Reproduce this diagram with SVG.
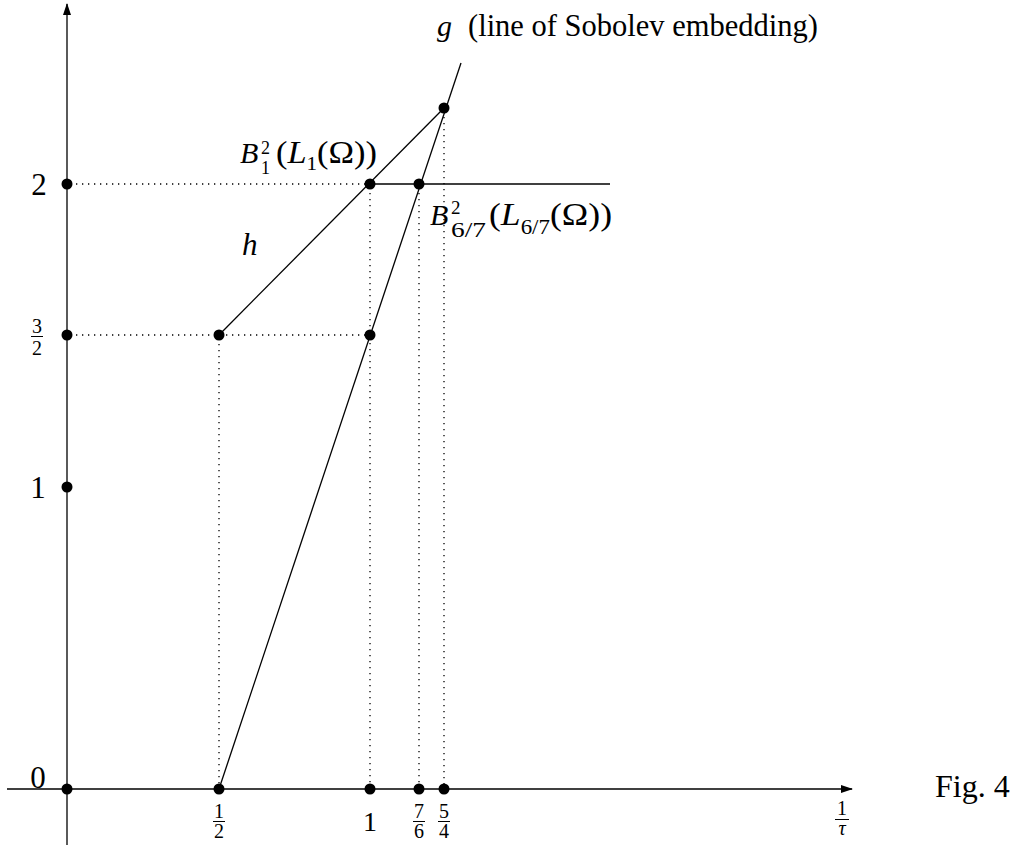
<svg xmlns="http://www.w3.org/2000/svg" width="1017" height="849" viewBox="0 0 1017 849">
<style>
text{font-family:"Liberation Serif","Times New Roman",serif;fill:#000}
.it{font-style:italic}
.ax{stroke:#000;stroke-width:1.3;fill:none}
.ln{stroke:#000;stroke-width:1.3;fill:none}
.dt{stroke:#000;stroke-width:1.3;stroke-dasharray:1.3 4.7;fill:none}
.bar{stroke:#000;stroke-width:1}
</style>
<defs>
<marker id="arr" viewBox="0 0 12 8" refX="11" refY="4" markerWidth="12" markerHeight="8" markerUnits="userSpaceOnUse" orient="auto">
<path d="M0,0 L12,4 L0,8 Z" fill="#000"/>
</marker>
</defs>
<rect width="1017" height="849" fill="#fff"/>
<g id="axes">
<line class="ax" x1="67" y1="845" x2="67" y2="4" marker-end="url(#arr)"/>
<line class="ax" x1="7" y1="789" x2="852" y2="789" marker-end="url(#arr)"/>
</g>
<g id="connectors">
<line class="dt" x1="70" y1="184" x2="370" y2="184"/>
<line class="dt" x1="70" y1="335" x2="370" y2="335"/>
<line class="dt" x1="219" y1="338" x2="219" y2="789"/>
<line class="dt" x1="370" y1="187" x2="370" y2="789"/>
<line class="dt" x1="419" y1="187" x2="419" y2="789"/>
<line class="dt" x1="444" y1="111" x2="444" y2="789"/>
<line id="g-line" class="ln" x1="219" y1="789" x2="461" y2="63"/>
<line id="h-line" class="ln" x1="219" y1="335" x2="444" y2="108"/>
<line class="ln" x1="370" y1="184" x2="610" y2="184"/>
</g>
<g id="points" fill="#000">
<circle cx="67" cy="789" r="5.5"/>
<circle cx="67" cy="487" r="5.5"/>
<circle cx="67" cy="335" r="5.5"/>
<circle cx="67" cy="184" r="5.5"/>
<circle cx="219" cy="789" r="5.5"/>
<circle cx="370" cy="789" r="5.5"/>
<circle cx="419" cy="789" r="5.5"/>
<circle cx="444" cy="789" r="5.5"/>
<circle cx="219" cy="335" r="5.5"/>
<circle cx="370" cy="335" r="5.5"/>
<circle cx="370" cy="184" r="5.5"/>
<circle cx="419" cy="184" r="5.5"/>
<circle cx="444" cy="108" r="5.5"/>
</g>
<g id="y-labels" text-anchor="middle">
<text x="38" y="788" font-size="31">0</text>
<text x="38" y="498" font-size="31">1</text>
<text x="39" y="195" font-size="31">2</text>
<text x="37" y="333" font-size="20">3</text>
<line class="bar" x1="31" y1="336.5" x2="43" y2="336.5"/>
<text x="37" y="355" font-size="20">2</text>
</g>
<g id="x-labels" text-anchor="middle">
<text x="219" y="818" font-size="20">1</text>
<line class="bar" x1="213" y1="821.5" x2="225" y2="821.5"/>
<text x="219" y="838" font-size="20">2</text>
<text x="370" y="831" font-size="28">1</text>
<text x="419" y="818" font-size="20">7</text>
<line class="bar" x1="413" y1="821.5" x2="425" y2="821.5"/>
<text x="419" y="838" font-size="20">6</text>
<text x="444" y="818" font-size="20">5</text>
<line class="bar" x1="438" y1="821.5" x2="450" y2="821.5"/>
<text x="444" y="838" font-size="20">4</text>
<text x="842" y="815" font-size="20">1</text>
<line class="bar" x1="835" y1="819.5" x2="849" y2="819.5"/>
<text x="842" y="835" font-size="20" class="it">τ</text>
</g>
<g id="label-g">
<text x="437" y="36" font-size="30" class="it">g</text>
<text x="468" y="36" font-size="30.5">(line of Sobolev embedding)</text>
</g>
<g id="label-h">
<text x="242" y="255" font-size="31" class="it">h</text>
</g>
<g id="label-B1">
<text x="240" y="163" font-size="30" class="it">B</text>
<text x="261" y="154" font-size="18">2</text>
<text x="261" y="174" font-size="18">1</text>
<text x="276" y="163" font-size="31" textLength="101" lengthAdjust="spacingAndGlyphs">(<tspan class="it">L</tspan><tspan font-size="19" dy="7">1</tspan><tspan dy="-7">(Ω))</tspan></text>
</g>
<g id="label-B67">
<text x="430" y="225" font-size="30" class="it">B</text>
<text x="451" y="214" font-size="19">2</text>
<text x="451" y="237" font-size="20" textLength="35" lengthAdjust="spacingAndGlyphs">6/7</text>
<text x="489" y="225" font-size="31" textLength="123" lengthAdjust="spacingAndGlyphs">(<tspan class="it">L</tspan><tspan font-size="20" dy="9">6/7</tspan><tspan dy="-9">(Ω))</tspan></text>
</g>
<g id="caption">
<text x="935" y="797" font-size="32">Fig. 4</text>
</g>
</svg>
